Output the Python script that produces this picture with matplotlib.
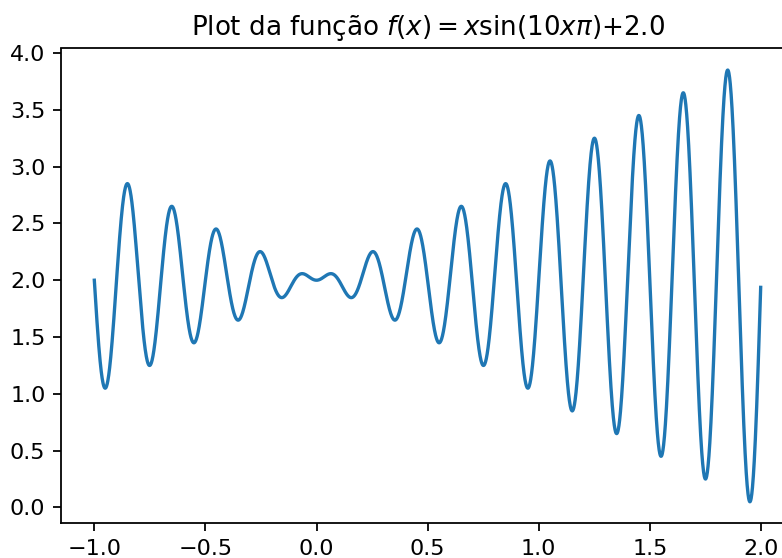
import numpy as np
from matplotlib import pyplot as plt

# f(x) = x*sin(10*x*pi) + 2.0, sampled like np.arange(-1, 2, 0.001)
x_start = -1.0
x_stop = 2.0
x_step = 0.001
freq = 10.0
offset = 2.0

x = np.arange(x_start, x_stop, x_step)
y = x * np.sin(freq * x * np.pi) + offset

fig = plt.figure(figsize=(7.82, 5.58), dpi=100)
# the reference is cropped on the right and bottom, so the axes run past the edge
ax = fig.add_axes([61/782, 34.7/558, 733/782, 474.8/558])

ax.plot(x, y, color='#1f77b4', linewidth=2.4)
ax.set_title(r'Plot da função $f(x) = x\sin(10x\pi)$+2.0', fontsize=18.8, pad=9.6)

for side in ['left', 'bottom', 'top', 'right']:
    ax.spines[side].set_linewidth(1.28)
ax.tick_params(labelsize=16, length=5.6, width=1.28, pad=5.6)
ax.set_xticks([-1.0, -0.5, 0.0, 0.5, 1.0, 1.5, 2.0])
ax.set_yticks([0.0, 0.5, 1.0, 1.5, 2.0, 2.5, 3.0, 3.5, 4.0])

fig.savefig('out.png', dpi=100)
